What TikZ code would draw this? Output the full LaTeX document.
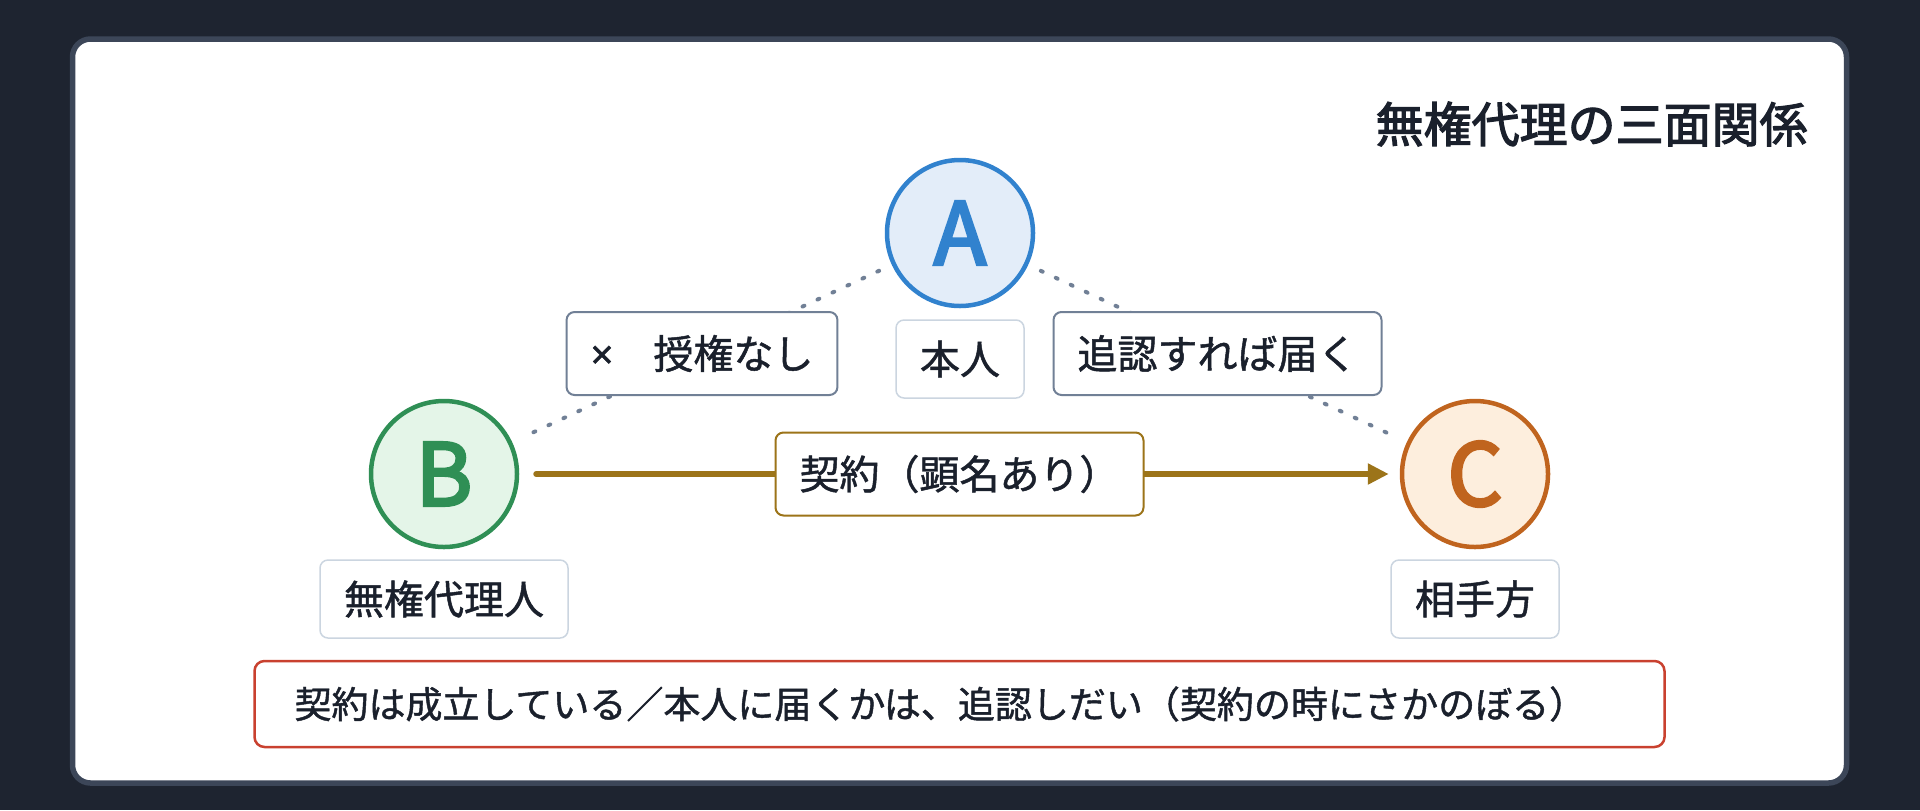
\documentclass[tikz,border=0pt]{standalone}
\usepackage{fontspec}
\setmainfont{Noto Sans CJK JP}[FakeBold=1.2]
\newfontfamily\headfont{Noto Sans CJK JP}[FakeBold=2.5]
\newfontfamily\letterfont{Noto Sans CJK JP}[FakeBold=3.5]
\newfontfamily\latinfont{Noto Sans}[FakeBold=1.2]
\usepackage{tikz}
\usepackage{xcolor}
\tikzset{>=latex}
\usetikzlibrary{positioning,arrows.meta}
\definecolor{pagebg}{HTML}{1E2430}
\definecolor{cardline}{HTML}{3C4658}
\definecolor{ink}{HTML}{1A202C}
\definecolor{grayline}{HTML}{718096}
\definecolor{lightline}{HTML}{CBD5E0}
\definecolor{blueA}{HTML}{3182CE}
\definecolor{blueAbg}{HTML}{E3EDF9}
\definecolor{greenB}{HTML}{2F8F55}
\definecolor{greenBbg}{HTML}{E4F5E8}
\definecolor{orangeC}{HTML}{C0641E}
\definecolor{orangeCbg}{HTML}{FDEEDD}
\definecolor{contract}{HTML}{9C7419}
\definecolor{warnred}{HTML}{C9412F}
\tikzset{
  party/.style={circle, line width=2.25pt, minimum size=73pt, inner sep=0pt,
    font=\letterfont\fontsize{43}{43}\selectfont},
  tag/.style={draw=lightline, line width=0.75pt, fill=white, rounded corners=4pt,
    inner xsep=12pt, inner ysep=0pt, minimum height=39pt, text=ink,
    font=\fontsize{20}{24}\selectfont},
  tagdark/.style={tag, draw=grayline, line width=1pt, minimum height=41.5pt},
  linkline/.style={grayline, line width=2pt, line cap=round,
    dash pattern=on 1pt off 7.25pt, shorten <=7pt, shorten >=7pt},
}

\begin{document}
\begin{tikzpicture}[x=0.5pt, y=-0.5pt]
        \fill[pagebg] (0,0) rectangle (1920,810);
        \useasboundingbox (0,0) rectangle (1920,810);
        \draw[cardline, line width=2.75pt, fill=white, rounded corners=9pt] (72.5,39) rectangle (1846.5,783);
        \node[anchor=east, inner sep=0pt, text=ink, font=\headfont\fontsize{24}{24}\selectfont] (title) at (1808,124) {無権代理の三面関係};
        \foreach \n/\x/\y/\c in {A/960/233/blueA, B/444/474/greenB, C/1475/474/orangeC} {
          \node[party, draw=\c, fill=\c bg, text=\c] (\n) at (\x, \y) {\n};
        }
        \node[tag, below=5.5pt of A] (principal) {本人};
        \node[tag, below=5pt of B] (agent) {無権代理人};
        \node[tag, below=5pt of C] (other) {相手方};
        \draw[linkline] (A) -- (B);
        \draw[linkline] (A) -- (C);
        \path (A) -- node[tagdark] (noauth) {{\latinfont ×}　授権なし} (B);
        \path (A) -- node[tagdark] (ratify) {追認すれば届く} (C);
        \draw[contract, line width=3pt, line cap=round, -{Triangle[length=10.5pt, width=10pt]},
          shorten <=8.5pt, shorten >=5.5pt] (B) -- (C);
        \path (B) -- node[tagdark, draw=contract] (deal) {契約（顕名あり）} (C);
        \node[draw=warnred, line width=1.25pt, fill=white, rounded corners=5pt, text width=665pt,
          align=left, inner xsep=20pt, inner ysep=0pt, minimum height=43pt, text=ink,
          font=\fontsize{18.5}{22}\selectfont] (note) at (959.5,704) {契約は成立している／本人に届くかは、追認しだい（契約の時にさかのぼる）};
      \end{tikzpicture}
\end{document}
